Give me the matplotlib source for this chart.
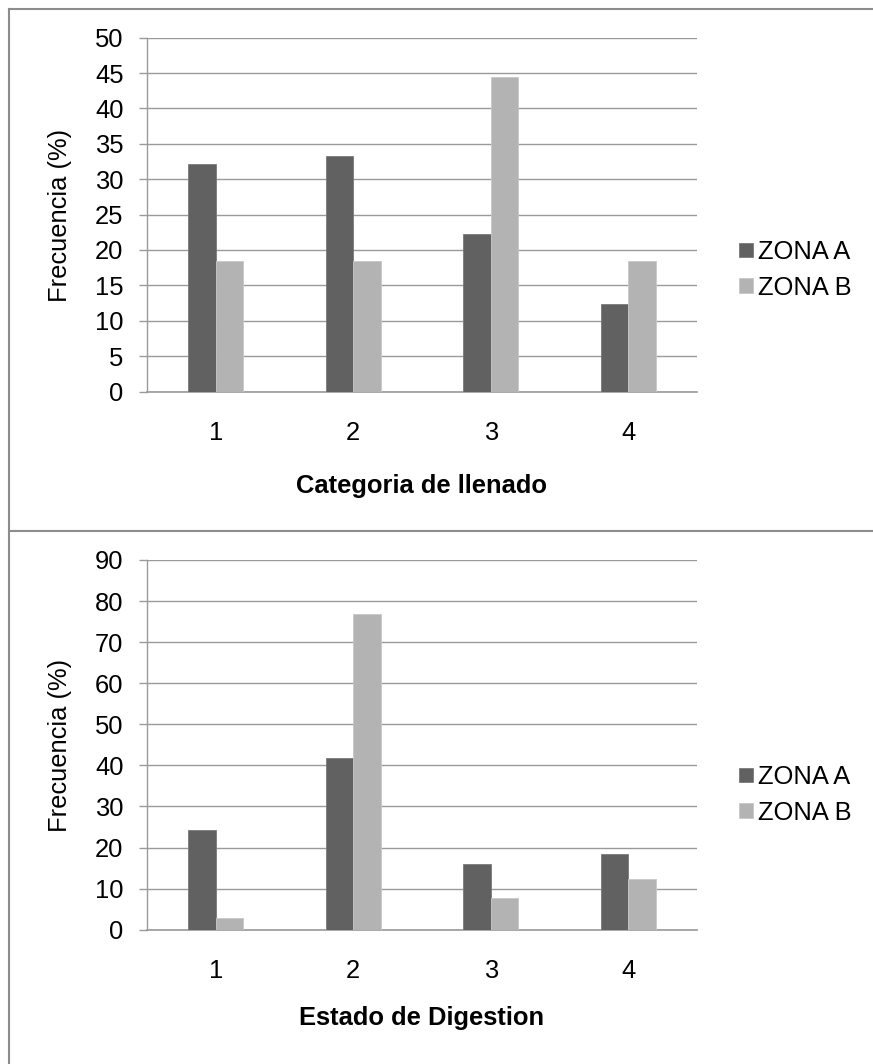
import numpy as np
import matplotlib
matplotlib.use('Agg')
import matplotlib.pyplot as plt
from matplotlib.lines import Line2D

# frequencies (%) per category for each zone
categories = ['1', '2', '3', '4']
zonas = ['ZONA A', 'ZONA B']

llenado_a = [32.1, 33.3, 22.2, 12.3]
llenado_b = [18.5, 18.5, 44.4, 18.5]

digestion_a = [24.2, 41.7, 16.1, 18.4]
digestion_b = [2.9, 76.9, 7.7, 12.4]

color_a = '#616161'
color_b = '#b3b3b3'
grid_color = '#9a9a9a'
frame_color = '#8c8c8c'

W, H = 873, 1064
plt.rcParams['font.family'] = ['Liberation Sans', 'DejaVu Sans']
fig = plt.figure(figsize=(W / 100, H / 100), dpi=100)


def fx(x):
    return x / W


def fy(y):
    return 1 - y / H


def draw_panel(y_top, y_zero, vals_a, vals_b, ymax, step, xlabel, label_y, legend_y):
    ax = fig.add_axes([fx(147), fy(y_zero), fx(697) - fx(147), fy(y_top) - fy(y_zero)])
    n = np.arange(len(categories))
    w = 0.2
    ax.bar(n - w / 2, vals_a, width=w, color=color_a, edgecolor='#7a7a7a',
           linewidth=0.6, label=zonas[0], zorder=3)
    ax.bar(n + w / 2, vals_b, width=w, color=color_b, edgecolor='#c8c8c8',
           linewidth=0.6, label=zonas[1], zorder=3)

    ax.set_xlim(-0.5, len(categories) - 0.5)
    ax.set_ylim(0, ymax)
    ax.set_yticks(np.arange(0, ymax + 1, step))
    ax.set_xticks(n)
    ax.set_xticklabels(categories)
    ax.yaxis.grid(True, color=grid_color, linewidth=1.0, zorder=0)
    ax.set_axisbelow(True)

    for side in ['top', 'right']:
        ax.spines[side].set_visible(False)
    ax.spines['left'].set_color(grid_color)
    ax.spines['left'].set_linewidth(1.0)
    ax.spines['bottom'].set_color(grid_color)
    ax.spines['bottom'].set_linewidth(1.2)

    ax.tick_params(axis='y', length=5.5, width=1.0, color=grid_color, pad=11.5,
                   labelsize=18.4)
    ax.tick_params(axis='x', length=0, pad=21, labelsize=18.4)

    fig.text(fx(60), fy(label_y), 'Frecuencia (%)', rotation=90, fontsize=18.4,
             ha='center', va='center')
    fig.text(fx(422), fy(y_zero + 95 if xlabel.startswith('C') else y_zero + 88), xlabel,
             fontsize=18.4, fontweight='bold', ha='center', va='center')

    ax.legend(loc='center left', bbox_to_anchor=(fx(739), fy(legend_y)),
              bbox_transform=fig.transFigure, frameon=False, fontsize=18.4,
              handlelength=0.55, handleheight=0.5, handletextpad=0.2,
              labelspacing=0.45, borderpad=0, borderaxespad=0)
    return ax


draw_panel(37.7, 391.5, llenado_a, llenado_b, 50, 5, 'Categoria de llenado', 215, 270)
draw_panel(560, 929.7, digestion_a, digestion_b, 90, 10, 'Estado de Digestion', 745, 795)

# panel borders
lw = 1.5
fig.add_artist(Line2D([fx(9), fx(9)], [fy(8.5), 0], transform=fig.transFigure,
                      color=frame_color, linewidth=lw))
fig.add_artist(Line2D([fx(9), 1], [fy(8.5), fy(8.5)], transform=fig.transFigure,
                      color=frame_color, linewidth=lw))
fig.add_artist(Line2D([fx(9), 1], [fy(531), fy(531)], transform=fig.transFigure,
                      color=frame_color, linewidth=lw))

fig.savefig('out.png', dpi=100)
